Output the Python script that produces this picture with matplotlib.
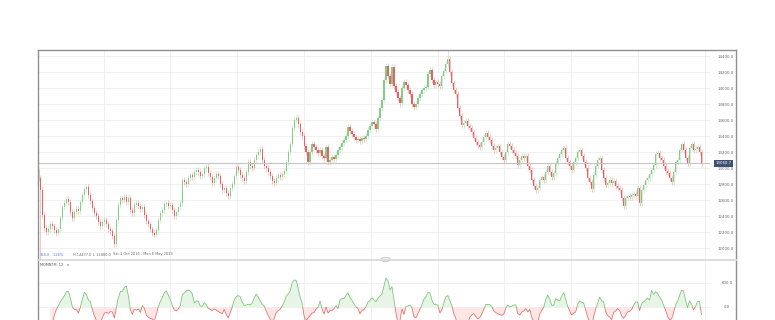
import numpy as np
import matplotlib.pyplot as plt
from matplotlib.patches import Rectangle, FancyBboxPatch
from matplotlib.lines import Line2D
from matplotlib.transforms import blended_transform_factory

# closing prices, left to right (one candle ~ 2 sessions)
close_a = [12875, 12725, 12410, 12250, 12200, 12240, 12300, 12275, 12225, 12190,
           12240, 12375, 12510, 12560, 12610, 12575, 12450, 12375, 12450, 12490,
           12460, 12575, 12660, 12740, 12760, 12660, 12590, 12500, 12440, 12400,
           12325, 12275, 12325, 12350, 12300, 12240, 12210, 12150, 12050, 12350,
           12540, 12625, 12600, 12640, 12575, 12625, 12475, 12440, 12540, 12560,
           12525, 12490, 12510, 12410, 12340, 12300, 12240, 12190, 12160, 12225,
           12350, 12440, 12475, 12550, 12560, 12525]
close_b = [12540, 12475, 12400, 12450, 12510, 12560, 12850, 12825, 12800, 12875,
           12910, 12890, 12950, 12975, 12950, 12900, 12925, 13000, 13010, 12940,
           12890, 12810, 12875, 12925, 12900, 12800, 12725, 12750, 12690, 12650,
           12750, 12800, 12900, 13010, 12975, 12910, 12875, 12840, 12950, 13075,
           13025, 13000, 13100, 13160, 13200, 13240, 13100, 13025, 13000, 12950,
           12900, 12840, 12810, 12875, 12910, 12890, 12925, 12960, 13075, 13200,
           13300, 13500, 13600, 13625, 13550, 13450, 13400, 13275]
close_c = [13200, 13075, 13200, 13300, 13260, 13225, 13190, 13225, 13150, 13125,
           13260, 13075, 13100, 13140, 13110, 13160, 13225, 13260, 13310, 13350,
           13400, 13510, 13460, 13425, 13390, 13350, 13360, 13340, 13375, 13360,
           13400, 13475, 13525, 13575, 13550, 13490, 13625, 13750, 13850, 14100,
           14275, 14150, 14050, 14260, 14025, 13950, 13875, 13810, 14000, 14075,
           14040, 13975, 13925, 13800, 13760, 13800, 13875, 13925, 13975, 14000,
           14010, 14175, 14225, 14100, 14040, 14075, 14050]
close_d = [14025, 14150, 14210, 14300, 14360, 14200, 14060, 13975, 13925, 13750,
           13650, 13540, 13560, 13590, 13525, 13500, 13450, 13375, 13325, 13290,
           13260, 13325, 13390, 13440, 13390, 13350, 13275, 13225, 13250, 13275,
           13200, 13140, 13100, 13200, 13300, 13275, 13225, 13190, 13150, 13040,
           13100, 13150, 13125, 13150, 13025, 12975, 12850, 12775, 12725, 12750,
           12850, 12890, 12850, 12950, 13025, 12950, 12890, 12940, 13060, 13125,
           13175, 13225, 13250, 13125, 13075, 13025, 12975]
close_e = [13075, 13125, 13200, 13225, 13150, 13075, 13000, 12875, 12825, 12740,
           12910, 13025, 13100, 13125, 12975, 12875, 12790, 12810, 12850, 12810,
           12840, 12775, 12750, 12725, 12625, 12525, 12625, 12650, 12640, 12660,
           12675, 12650, 12750, 12560, 12725, 12790, 12850, 12875, 12925, 12975,
           13040, 13175, 13190, 13125, 13100, 13025, 12960, 12940, 12875, 12825,
           12950, 13075, 13100, 13225, 13300, 13225, 13125, 13060, 13250, 13300,
           13225, 13240, 13260, 13200, 13060.7]

first_open = 12950
range_high = 14477.0
range_low = 11800.0
last_price = 13060.7
price_ticks = [12000, 12200, 12400, 12600, 12800, 13000, 13200,
               13400, 13600, 13800, 14000, 14200, 14400]
mom_ticks = [0, 600]
mom_period = 12
info_change = "168.0"
info_pct = "1.26%"
date_range = "Sat 1 Oct 2016 - Mon 6 May 2019"

closes = np.array(close_a + close_b + close_c + close_d + close_e, dtype=float)
n = len(closes)
opens = np.r_[first_open, closes[:-1]]
wick = 35
highs = np.maximum(opens, closes) + wick
lows = np.minimum(opens, closes) - wick
lows[1] = range_low
highs[np.argmax(closes)] = range_high

# momentum over 12 sessions = 6 candles here
lag = mom_period // 2
mom = closes - np.r_[np.full(lag, np.nan), closes[:-lag]]

GREEN = '#86cc86'
RED = '#e46464'

W, H = 775, 320
fig = plt.figure(figsize=(W / 100, H / 100), dpi=100)
fig.patch.set_facecolor('white')


def box(x0, y0, x1, y1):
    return [x0 / W, 1 - y1 / H, (x1 - x0) / W, (y1 - y0) / H]


ax = fig.add_axes(box(38, 50, 710, 259))
ax2 = fig.add_axes(box(38, 260, 710, 350))

xi = np.arange(n)
step = (701 - 38) / (n - 1)
xlim = (-0.5 / step, (710 - 38.5) / step)
grid_x = np.arange(65 / step, xlim[1], 66.8 / step)

up = closes >= opens
cols = np.where(up, GREEN, RED)
ax.vlines(xi, lows, highs, colors=cols, lw=0.45, alpha=0.55)
ax.bar(xi, closes - opens, bottom=opens, width=0.6, color=cols, lw=0)
ax.axhline(last_price, color='#c4c4c4', lw=0.8)

ax.set_xlim(*xlim)
ax.set_ylim(11862.5, 14475)

ax2.fill_between(xi, mom, 0, where=mom >= 0, interpolate=True, color='#e8f5e6', lw=0)
ax2.fill_between(xi, mom, 0, where=mom < 0, interpolate=True, color='#fce6e6', lw=0)
l_up, = ax2.plot(xi, mom, color='#74c274', lw=0.55)
l_dn, = ax2.plot(xi, mom, color='#e46868', lw=0.55)
l_up.set_clip_path(Rectangle((-10, 0), n + 20, 5000, transform=ax2.transData))
l_dn.set_clip_path(Rectangle((-10, -5000), n + 20, 5000, transform=ax2.transData))
ax2.set_xlim(*xlim)
ax2.set_ylim(-1075, 1175)

for a, ticks, pad in [(ax, price_ticks, 11.3), (ax2, mom_ticks, 12.2)]:
    for s in a.spines.values():
        s.set_visible(False)
    a.yaxis.tick_right()
    a.set_yticks(ticks)
    a.set_yticklabels([f"{t:.1f}" for t in ticks])
    a.set_xticks(grid_x)
    a.tick_params(axis='x', length=0, labelbottom=False)
    a.tick_params(axis='y', length=0, pad=pad, labelsize=2.8, labelcolor='#666666')
    for lbl in a.get_yticklabels():
        lbl.set_ha('center')
    a.grid(color='#eeeeee', lw=0.6)
    a.set_axisbelow(True)

# last price tag
tr = blended_transform_factory(fig.transFigure, ax.transData)
ax.text(723.5 / W, last_price, f"{last_price:.1f}", transform=tr, ha='center',
        va='center', fontsize=2.8, color='white', clip_on=False,
        bbox=dict(boxstyle='square,pad=0.35', fc='#3f5170', ec='none'))

# frame, separator and pane handle
frame = dict(color='#8f8f8f', lw=1.0)
fig.add_artist(Line2D([38 / W, 736 / W], [1 - 50 / H] * 2, **frame))
fig.add_artist(Line2D([38 / W] * 2, [1 - 50 / H, 0], **frame))
fig.add_artist(Line2D([736 / W] * 2, [1 - 50 / H, 0], **frame))
fig.add_artist(Line2D([38 / W, 736 / W], [1 - 259.5 / H] * 2, color='#dadada', lw=1.3))
fig.add_artist(FancyBboxPatch((381 / W, 1 - 261.3 / H), 9 / W, 3.6 / H,
                              boxstyle='round,pad=0,rounding_size=0.004',
                              fc='#f3f3f3', ec='#b5b5b5', lw=0.5))

# info bar and indicator label
yi = 1 - 254.5 / H
fig.text(40 / W, yi, info_change, fontsize=2.5, color='#3f7fd0', va='center')
fig.text(53 / W, yi, info_pct, fontsize=2.5, color='#3f7fd0', va='center')
fig.text(73 / W, yi, f"H {range_high:.1f}", fontsize=2.5, color='#666666', va='center')
fig.text(93 / W, yi, f"L {range_low:.1f}", fontsize=2.5, color='#666666', va='center')
fig.text(113 / W, yi, date_range, fontsize=2.5, color='#666666', va='center')
fig.text(40 / W, 1 - 265.5 / H, f"MOMNTM  {mom_period}   \u00d7", fontsize=2.5,
         color='#555555', va='center')

fig.savefig('out.png', dpi=100)
